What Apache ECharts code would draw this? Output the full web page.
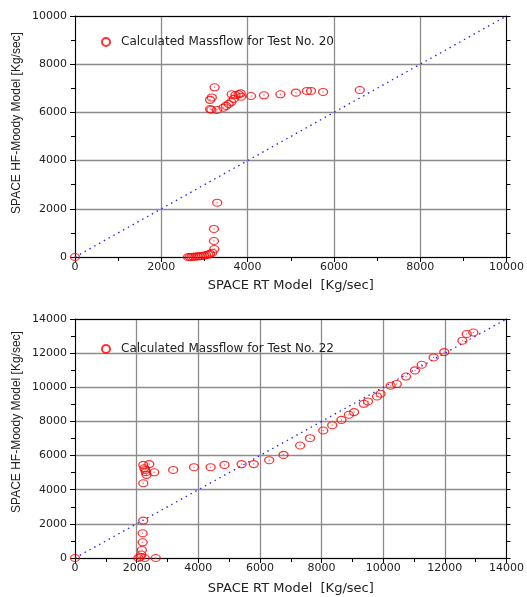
<html>
<head>
	<meta charset="UTF-8">
	<script src="https://cdn.jsdelivr.net/npm/echarts@6/dist/echarts.min.js"></script>
</head>
<body style="margin:0;background:#fff;">
<div id="main" style="width:527px;height:597px;"></div>
<script type="text/javascript">

        // Test No. 20 : x = SPACE RT model, y = SPACE HF-Moody model
        var test20X = [0, 2620, 2660, 2700, 2740, 2790, 2840, 2890, 2940, 2990, 3040, 3090, 3130, 3180, 3230, 3220, 3220, 3295,
                       3130, 3160, 3290, 3440, 3500, 3560, 3620, 3630, 3680, 3720, 3790, 3840, 3850, 3130, 3170, 3235,
                       4080, 4380, 4760, 5120, 5375, 5470, 5750, 6600]
        var test20Y = [0, 0, 0, 0, 10, 15, 25, 35, 45, 60, 80, 100, 130, 178, 332, 664, 1165, 2255,
                       6140, 6110, 6100, 6195, 6270, 6350, 6430, 6750, 6560, 6720, 6750, 6790, 6650, 6520, 6620, 7040,
                       6680, 6710, 6750, 6820, 6890, 6890, 6850, 6930]

        // Test No. 22
        var test22X = [0, 2055, 2120, 2150, 2170, 2195, 2195, 2215, 2260, 2620,
                       2215, 2215, 2250, 2280, 2300, 2320, 2410, 2570,
                       3185, 3860, 4400, 4850, 5405, 5800, 6300, 6765, 7305, 7625, 8055, 8345, 8645, 8885,
                       9055, 9370, 9505, 9800, 9915, 10240, 10440, 10740, 11030, 11250, 11635, 11980, 12570, 12710, 12925]
        var test22Y = [0, 0, 60, 200, 470, 920, 1450, 2190, 0, 0,
                       4380, 5455, 5260, 5160, 5030, 4870, 5500, 5020,
                       5160, 5320, 5320, 5455, 5500, 5500, 5730, 6040, 6590, 7020, 7470, 7780, 8090, 8390,
                       8545, 9030, 9170, 9460, 9620, 10090, 10190, 10630, 10990, 11320, 11750, 12060, 12730, 13120, 13210]

        // 1:1 reference lines
        var diag20 = [[0, 0], [10000, 10000]]
        var diag22 = [[0, 0], [14000, 14000]]

        var legend20 = 'Calculated Massflow for Test No. 20'
        var legend22 = 'Calculated Massflow for Test No. 22'
        var xTitle = 'SPACE RT Model  [Kg/sec]'
        var yTitle = 'SPACE HF-Moody Model [Kg/sec]'

        function zip(xs, ys) {
            var out = []
            for (var i = 0; i < xs.length; i++) {
                out.push([xs[i], ys[i]])
            }
            return out
        }

        var labelStyle = {fontFamily: 'DejaVu Sans', fontSize: 11, color: '#222'}
        var plain = function (v) { return String(v) }

        function makeX(idx, max, name, gap) {
            return {
                type: 'value', gridIndex: idx, min: 0, max: max, interval: 2000,
                name: name, nameLocation: 'middle', nameGap: gap,
                nameTextStyle: {fontFamily: 'DejaVu Sans', fontSize: 13, color: '#222'},
                axisLine: {onZero: false, lineStyle: {color: '#000', width: 1}},
                axisTick: {show: true, inside: false, length: 5, lineStyle: {color: '#000'}},
                minorTick: {show: true, splitNumber: 2, length: 4, lineStyle: {color: '#000'}},
                axisLabel: Object.assign({margin: 5, formatter: plain}, labelStyle),
                splitLine: {show: true, lineStyle: {color: '#8c8c8c', width: 1.3}}
            }
        }
        function makeY(idx, max) {
            return {
                type: 'value', gridIndex: idx, min: 0, max: max, interval: 2000,
                axisLine: {onZero: false, lineStyle: {color: '#000', width: 1}},
                axisTick: {show: true, inside: false, length: 5, lineStyle: {color: '#000'}},
                minorTick: {show: true, splitNumber: 2, length: 4, lineStyle: {color: '#000'}},
                axisLabel: Object.assign({margin: 8, formatter: plain}, labelStyle),
                splitLine: {show: true, lineStyle: {color: '#8c8c8c', width: 1.3}}
            }
        }
        // mirror axes for the frame (top / right)
        function frameX(idx, max) {
            return {
                type: 'value', gridIndex: idx, min: 0, max: max, interval: 2000, position: 'top',
                axisLine: {show: true, onZero: false, lineStyle: {color: '#000'}},
                axisTick: {show: false}, axisLabel: {show: false}, splitLine: {show: false}
            }
        }
        function frameY(idx, max) {
            return {
                type: 'value', gridIndex: idx, min: 0, max: max, interval: 2000, position: 'right',
                axisLine: {show: true, onZero: false, lineStyle: {color: '#000'}},
                axisTick: {show: true, length: 4, lineStyle: {color: '#000'}},
                minorTick: {show: true, splitNumber: 2, length: 4, lineStyle: {color: '#000'}},
                axisLabel: {show: false}, splitLine: {show: false}
            }
        }

        function ring(name, xi, yi, data) {
            return {
                name: name, type: 'scatter', xAxisIndex: xi, yAxisIndex: yi, data: data,
                symbol: 'circle', symbolSize: [9, 7],
                itemStyle: {color: 'rgba(0,0,0,0)', borderColor: '#ff0000', borderWidth: 1.2},
                z: 5
            }
        }
        function dot(xi, yi, data) {
            return {
                type: 'scatter', xAxisIndex: xi, yAxisIndex: yi, data: data,
                symbol: 'circle', symbolSize: 1.5, itemStyle: {color: '#ff4040'}, z: 6, silent: true
            }
        }
        function diagLine(xi, yi, data) {
            return {
                type: 'line', xAxisIndex: xi, yAxisIndex: yi, data: data, symbol: 'none',
                lineStyle: {color: '#2020ff', width: 1.3, type: [1.5, 4]}, z: 3, silent: true
            }
        }

        // rotated y titles (sit a little above the plot centre like the original)
        function yName(cy) {
            return {
                type: 'text', x: 17, y: cy, rotation: Math.PI / 2,
                style: {text: yTitle, fontFamily: 'Liberation Sans', fontSize: 12, fill: '#222',
                        align: 'center', verticalAlign: 'middle'}
            }
        }

        var chart = echarts.init(document.getElementById('main'))

        var option = {
            animation: false,
            backgroundColor: '#fff',
            grid: [
                {left: 75, right: 17, top: 16, height: 241},
                {left: 75, right: 17, top: 319, height: 239}
            ],
            legend: [
                {data: [legend20], left: 96, top: 31, itemWidth: 20, itemHeight: 8,
                 textStyle: {fontFamily: 'DejaVu Sans', fontSize: 12, color: '#222'}},
                {data: [legend22], left: 96, top: 338, itemWidth: 20, itemHeight: 8,
                 textStyle: {fontFamily: 'DejaVu Sans', fontSize: 12, color: '#222'}}
            ],
            graphic: [yName(123), yName(422)],
            xAxis: [makeX(0, 10000, xTitle, 22), makeX(1, 14000, xTitle, 24), frameX(0, 10000), frameX(1, 14000)],
            yAxis: [makeY(0, 10000), makeY(1, 14000), frameY(0, 10000), frameY(1, 14000)],
            series: [
                diagLine(0, 0, diag20),
                ring(legend20, 0, 0, zip(test20X, test20Y)),
                dot(0, 0, zip(test20X, test20Y)),
                diagLine(1, 1, diag22),
                ring(legend22, 1, 1, zip(test22X, test22Y)),
                dot(1, 1, zip(test22X, test22Y))
            ]
        }

        chart.setOption(option)

</script>
</body>
</html>
